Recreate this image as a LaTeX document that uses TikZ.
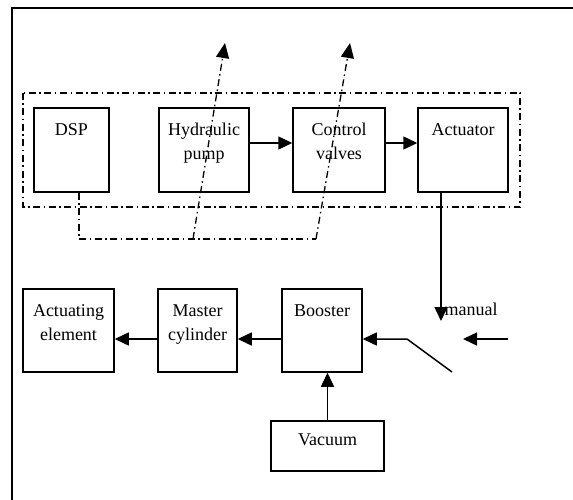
\documentclass[tikz,border=0pt]{standalone}
\usepackage{fontspec}
\setmainfont{Liberation Serif}
\usetikzlibrary{arrows.meta}
\tikzset{
  blk/.style={draw, line width=1.5pt, inner sep=0pt},
  lbl/.style={anchor=north, inner sep=0pt, align=center, yshift=-16pt, font=\fontsize{18}{24}\selectfont},
  flow/.style={line width=1.5pt, -{Triangle[length=14pt,width=13pt]}},
  sig/.style={line width=1.3pt, dash pattern=on 7pt off 3.5pt on 1.5pt off 3.5pt},
}
\begin{document}
\begin{tikzpicture}[x=1pt,y=-1pt]
	\useasboundingbox (0,0) rectangle (573,500);
	\clip (0,0) rectangle (573,500);
	\draw [line width=2pt] (12,8) rectangle (600,530);
	
	% controller group
	\draw [sig] (23,93) rectangle (520,207);
	\node[blk, minimum width=75pt, minimum height=84pt, label={[lbl]90:DSP}] (dsp) at (71.5,150) {};
	\node[blk, minimum width=90pt, minimum height=84pt, label={[lbl]90:{Hydraulic\\pump}}] (pump) at (204,150) {};
	\node[blk, minimum width=92pt, minimum height=84pt, label={[lbl]90:{Control\\valves}}] (valves) at (339,150) {};
	\node[blk, minimum width=90pt, minimum height=84pt, label={[lbl]90:Actuator}] (act) at (463,150) {};
	
	% brake line
	\node[blk, minimum width=91pt, minimum height=83pt, label={[lbl]90:{Actuating\\element}}] (elem) at (68.5,330.5) {};
	\node[blk, minimum width=79pt, minimum height=83pt, label={[lbl]90:{Master\\cylinder}}] (master) at (197.5,330.5) {};
	\node[blk, minimum width=80pt, minimum height=83pt, label={[lbl]90:Booster}] (boost) at (322,330.5) {};
	\node[blk, minimum width=113pt, minimum height=50pt, label={[lbl,yshift=2.5pt]90:Vacuum}] (vac) at (327.5,446) {};
	\node[anchor=base, inner sep=0pt, font=\fontsize{18}{24}\selectfont] (manual) at (471,315) {manual};
	
	\coordinate (acttip) at (441,321);
	\coordinate (sw1) at (407,339);
	\coordinate (sw2) at (452,372);
	\coordinate (man) at (508,339);
	\coordinate (mantip) at (463,339);
	\coordinate (fb1) at (79,239);
	\coordinate (fb2) at (193,239);
	\coordinate (fb3) at (316,239);
	\coordinate (tip1) at (225,43);
	\coordinate (tip2) at (350,43);
	
	\draw [flow] ([yshift=7pt]pump.east) -- ([yshift=7pt]valves.west);
	\draw [flow] ([yshift=7pt]valves.east) -- ([yshift=7pt]act.west);
	\draw [flow] ([xshift=-22pt]act.south) -- (acttip);
	\draw [flow] (sw2) -- (sw1) -- ([yshift=-8.5pt]boost.east);
	\draw [flow] (man) -- (mantip);
	\draw [flow] (vac.north) -- (vac.north |- boost.south);
	\draw [flow] ([yshift=-8.5pt]boost.west) -- ([yshift=-8.5pt]master.east);
	\draw [flow] ([yshift=-8.5pt]master.west) -- ([yshift=-8.5pt]elem.east);
	
	% signal lines
	\draw [sig] ([xshift=7.5pt]dsp.south) -- (fb1) -- (fb3);
	\draw [sig, -{Triangle[length=15pt,width=13pt]}] (fb2) -- (tip1);
	\draw [sig, -{Triangle[length=15pt,width=13pt]}] (fb3) -- (tip2);
\end{tikzpicture}
\end{document}
